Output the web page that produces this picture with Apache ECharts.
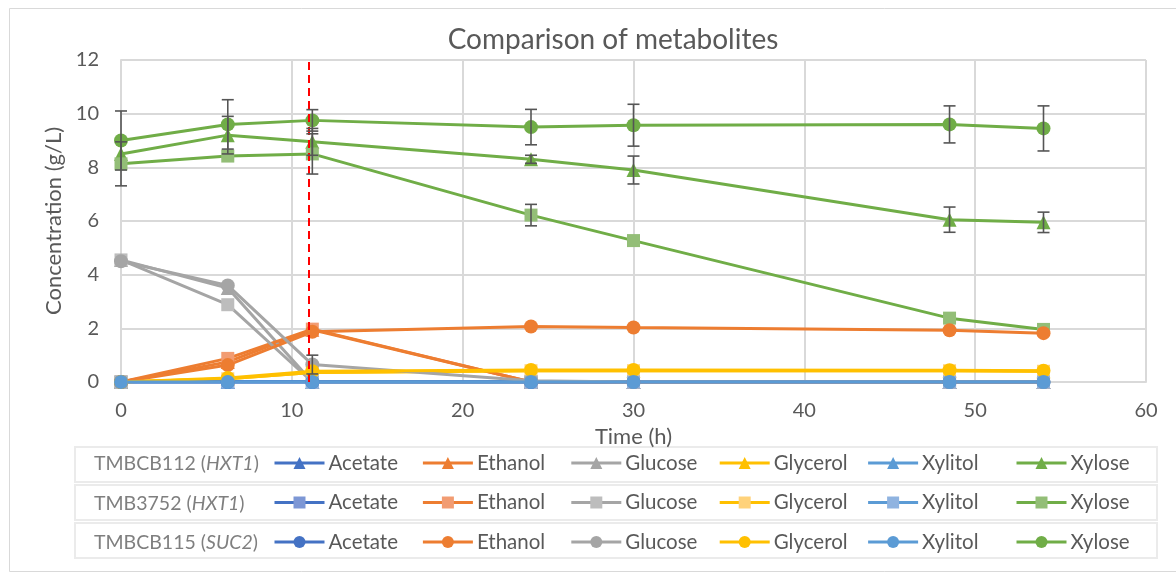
<!DOCTYPE html>
<html>
<head>
<meta charset="utf-8">
<script src="https://cdn.jsdelivr.net/npm/echarts@6/dist/echarts.min.js"></script>
<style>
  html, body { margin: 0; padding: 0; background: #fff; }
  #chart { width: 1176px; height: 572px; }
</style>
</head>
<body>
<div id="chart"></div>
<script>
// Sampling times (h)
const times = [0, 6.25, 11.2, 24, 30, 48.5, 54];
const xTicks = [0, 10, 20, 30, 40, 50, 60];
const yTicks = [0, 2, 4, 6, 8, 10, 12];

const strains = ['TMBCB112', 'TMB3752', 'TMBCB115'];
const genes = ['HXT1', 'HXT1', 'SUC2'];
const metabolites = ['Acetate', 'Ethanol', 'Glucose', 'Glycerol', 'Xylitol', 'Xylose'];

// TMBCB112 (HXT1), g/L
const acetate112  = [0, 0, 0, 0, 0, 0, 0];
const ethanol112  = [0, 0.75, 1.95, 0, 0, 0, 0];
const glucose112  = [4.55, 3.5, 0, 0, 0, 0, 0];
const glycerol112 = [0, 0.12, 0.35, 0.42, 0.42, 0.42, 0.4];
const xylitol112  = [0, 0, 0, 0, 0, 0, 0];
const xylose112   = [8.5, 9.2, 8.95, 8.3, 7.9, 6.05, 5.95];

// TMB3752 (HXT1), g/L
const acetate3752  = [0, 0, 0, 0, 0, 0, 0];
const ethanol3752  = [0, 0.88, 1.97, 0, 0, 0, 0];
const glucose3752  = [4.55, 2.88, 0, 0, 0, 0, 0];
const glycerol3752 = [0, 0.12, 0.35, 0.42, 0.42, 0.42, 0.4];
const xylitol3752  = [0, 0, 0, 0, 0, 0, 0];
const xylose3752   = [8.13, 8.42, 8.5, 6.22, 5.27, 2.38, 1.96];

// TMBCB115 (SUC2), g/L
const acetate115  = [0, 0, 0, 0, 0, 0, 0];
const ethanol115  = [0, 0.63, 1.87, 2.07, 2.03, 1.93, 1.82];
const glucose115  = [4.5, 3.6, 0.65, 0.05, 0, 0, 0];
const glycerol115 = [0, 0.15, 0.4, 0.45, 0.45, 0.44, 0.42];
const xylitol115  = [0, 0, 0, 0, 0, 0, 0];
const xylose115   = [9.0, 9.6, 9.75, 9.5, 9.57, 9.6, 9.45];

// Standard deviations (null = no bar)
const xylose112Err = [null, 0.7, 0.5, 0.15, 0.52, 0.47, 0.38];
const xylose3752Err = [0.82, null, 0.75, 0.4, null, null, null];
const xylose115Err = [1.1, 0.92, 0.4, 0.66, 0.78, 0.69, 0.84];
const glucose115Err = [null, null, 0.35, null, null, null, null];

const values = [
  [acetate112, ethanol112, glucose112, glycerol112, xylitol112, xylose112],
  [acetate3752, ethanol3752, glucose3752, glycerol3752, xylitol3752, xylose3752],
  [acetate115, ethanol115, glucose115, glycerol115, xylitol115, xylose115]
];
const errors = [
  [null, null, null, null, null, xylose112Err],
  [null, null, null, null, null, xylose3752Err],
  [null, null, glucose115Err, null, null, xylose115Err]
];

const lineColors = ['#4472c4', '#ed7d31', '#a5a5a5', '#ffc000', '#5b9bd5', '#70ad47'];
const lightMarker = ['#7d97d5', '#f29c72', '#bdbdbd', '#ffd27a', '#8fb3e0', '#93be77'];
const symbols = ['triangle', 'rect', 'circle'];
const symbolSizes = [14, 13, 14];

const FONT = 'Lato, "Open Sans", sans-serif';
const TEXT = '#595959';

const series = [];
strains.forEach((s, si) => {
  metabolites.forEach((m, mi) => {
    series.push({
      name: s + '|' + m,
      type: 'line',
      data: times.map((t, i) => [t, values[si][mi][i]]),
      symbol: symbols[si],
      symbolSize: symbolSizes[si],
      showSymbol: true,
      lineStyle: { color: lineColors[mi], width: 3 },
      itemStyle: { color: si === 1 ? lightMarker[mi] : lineColors[mi] },
      emphasis: { disabled: true },
      animation: false,
      z: 2
    });
  });
});

// Error bars drawn through the axis scales
const errData = [];
strains.forEach((s, si) => {
  metabolites.forEach((m, mi) => {
    const e = errors[si][mi];
    if (!e) return;
    times.forEach((t, i) => {
      if (e[i] == null) return;
      const v = values[si][mi][i];
      errData.push([t, v - e[i], v + e[i]]);
    });
  });
});
series.push({
  type: 'custom',
  name: 'errors',
  data: errData,
  z: 5,
  silent: true,
  animation: false,
  renderItem: function (params, api) {
    const lo = api.coord([api.value(0), api.value(1)]);
    const hi = api.coord([api.value(0), api.value(2)]);
    const hw = 6;
    const st = { stroke: '#555555', lineWidth: 1.6 };
    return {
      type: 'group',
      children: [
        { type: 'line', shape: { x1: lo[0], y1: lo[1], x2: hi[0], y2: hi[1] }, style: st },
        { type: 'line', shape: { x1: lo[0] - hw, y1: lo[1], x2: lo[0] + hw, y2: lo[1] }, style: st },
        { type: 'line', shape: { x1: hi[0] - hw, y1: hi[1], x2: hi[0] + hw, y2: hi[1] }, style: st }
      ]
    };
  }
});

// Vertical reference at 11 h
series.push({
  type: 'line',
  name: 'ref',
  data: [],
  markLine: {
    silent: true,
    symbol: 'none',
    label: { show: false },
    lineStyle: { color: '#ff0000', type: [8, 5], width: 2 },
    data: [{ xAxis: 11 }],
    animation: false
  },
  z: 6
});

// One legend column per metabolite, one row per strain
const legendLefts = [273, 421.4, 569.8, 718.2, 866.6, 1015];
const legends = metabolites.map((m, mi) => ({
  orient: 'vertical',
  left: legendLefts[mi],
  top: 452,
  padding: 0,
  itemWidth: 50,
  itemHeight: 15,
  itemGap: 17.5,
  selectedMode: false,
  lineStyle: { width: 3 },
  data: strains.map(s => s + '|' + m),
  formatter: name => name.split('|')[1],
  textStyle: { fontFamily: FONT, fontSize: 20.5, color: TEXT, lineHeight: 22, padding: [0, 0, 0, -1] }
}));

const rowY = [463, 503, 542];
const rowBoxes = [447, 485, 523];
const graphics = [
  { type: 'rect', left: 7, top: 6, shape: { width: 1167, height: 563 }, style: { fill: 'none', stroke: '#d9d9d9', lineWidth: 1 }, silent: true }
];
rowBoxes.forEach(y => {
  graphics.push({ type: 'rect', shape: { x: 75, y: y, width: 1082, height: 35 }, style: { fill: 'none', stroke: '#ebebeb', lineWidth: 2 }, silent: true, z: -1 });
});
strains.forEach((s, si) => {
  graphics.push({
    type: 'text',
    x: 94, y: rowY[si] + 1,
    style: {
      text: '{n|' + s + ' (}{i|' + genes[si] + '}{n|)}',
      verticalAlign: 'middle',
      rich: {
        n: { fontFamily: FONT, fontSize: 19.5, fill: '#7f7f7f' },
        i: { fontFamily: FONT, fontSize: 19.5, fontStyle: 'italic', fill: '#7f7f7f' }
      }
    },
    silent: true
  });
});
// Chart title, centred over the plot area
graphics.push({
  type: 'text',
  x: 613, y: 40,
  style: {
    text: 'Comparison of metabolites',
    align: 'center',
    verticalAlign: 'middle',
    fontFamily: FONT, fontSize: 28, fill: TEXT
  },
  silent: true
});

const chart = echarts.init(document.getElementById('chart'), null, { renderer: 'canvas' });
chart.setOption({
  animation: false,
  backgroundColor: '#ffffff',
  grid: { left: 121, right: 30, top: 60, bottom: 190 },
  xAxis: {
    type: 'value',
    min: xTicks[0], max: xTicks[xTicks.length - 1], interval: xTicks[1] - xTicks[0],
    name: 'Time (h)',
    nameLocation: 'middle',
    nameGap: 39,
    nameTextStyle: { fontFamily: FONT, fontSize: 22, color: TEXT },
    axisLine: { lineStyle: { color: '#d9d9d9', width: 2 } },
    axisTick: { show: false },
    axisLabel: { fontFamily: FONT, fontSize: 20, color: TEXT, margin: 19 },
    splitLine: { show: true, lineStyle: { color: '#d9d9d9', width: 2 } }
  },
  yAxis: {
    type: 'value',
    min: yTicks[0], max: yTicks[yTicks.length - 1], interval: yTicks[1] - yTicks[0],
    name: 'Concentration (g/L)',
    nameLocation: 'middle',
    nameGap: 54,
    nameTextStyle: { fontFamily: FONT, fontSize: 22, color: TEXT },
    axisLine: { show: true, lineStyle: { color: '#d9d9d9', width: 2 } },
    axisTick: { show: false },
    axisLabel: { fontFamily: FONT, fontSize: 20, color: TEXT, margin: 22 },
    splitLine: { show: true, lineStyle: { color: '#d9d9d9', width: 2 } }
  },
  legend: legends,
  graphic: graphics,
  series: series
});
</script>
</body>
</html>
